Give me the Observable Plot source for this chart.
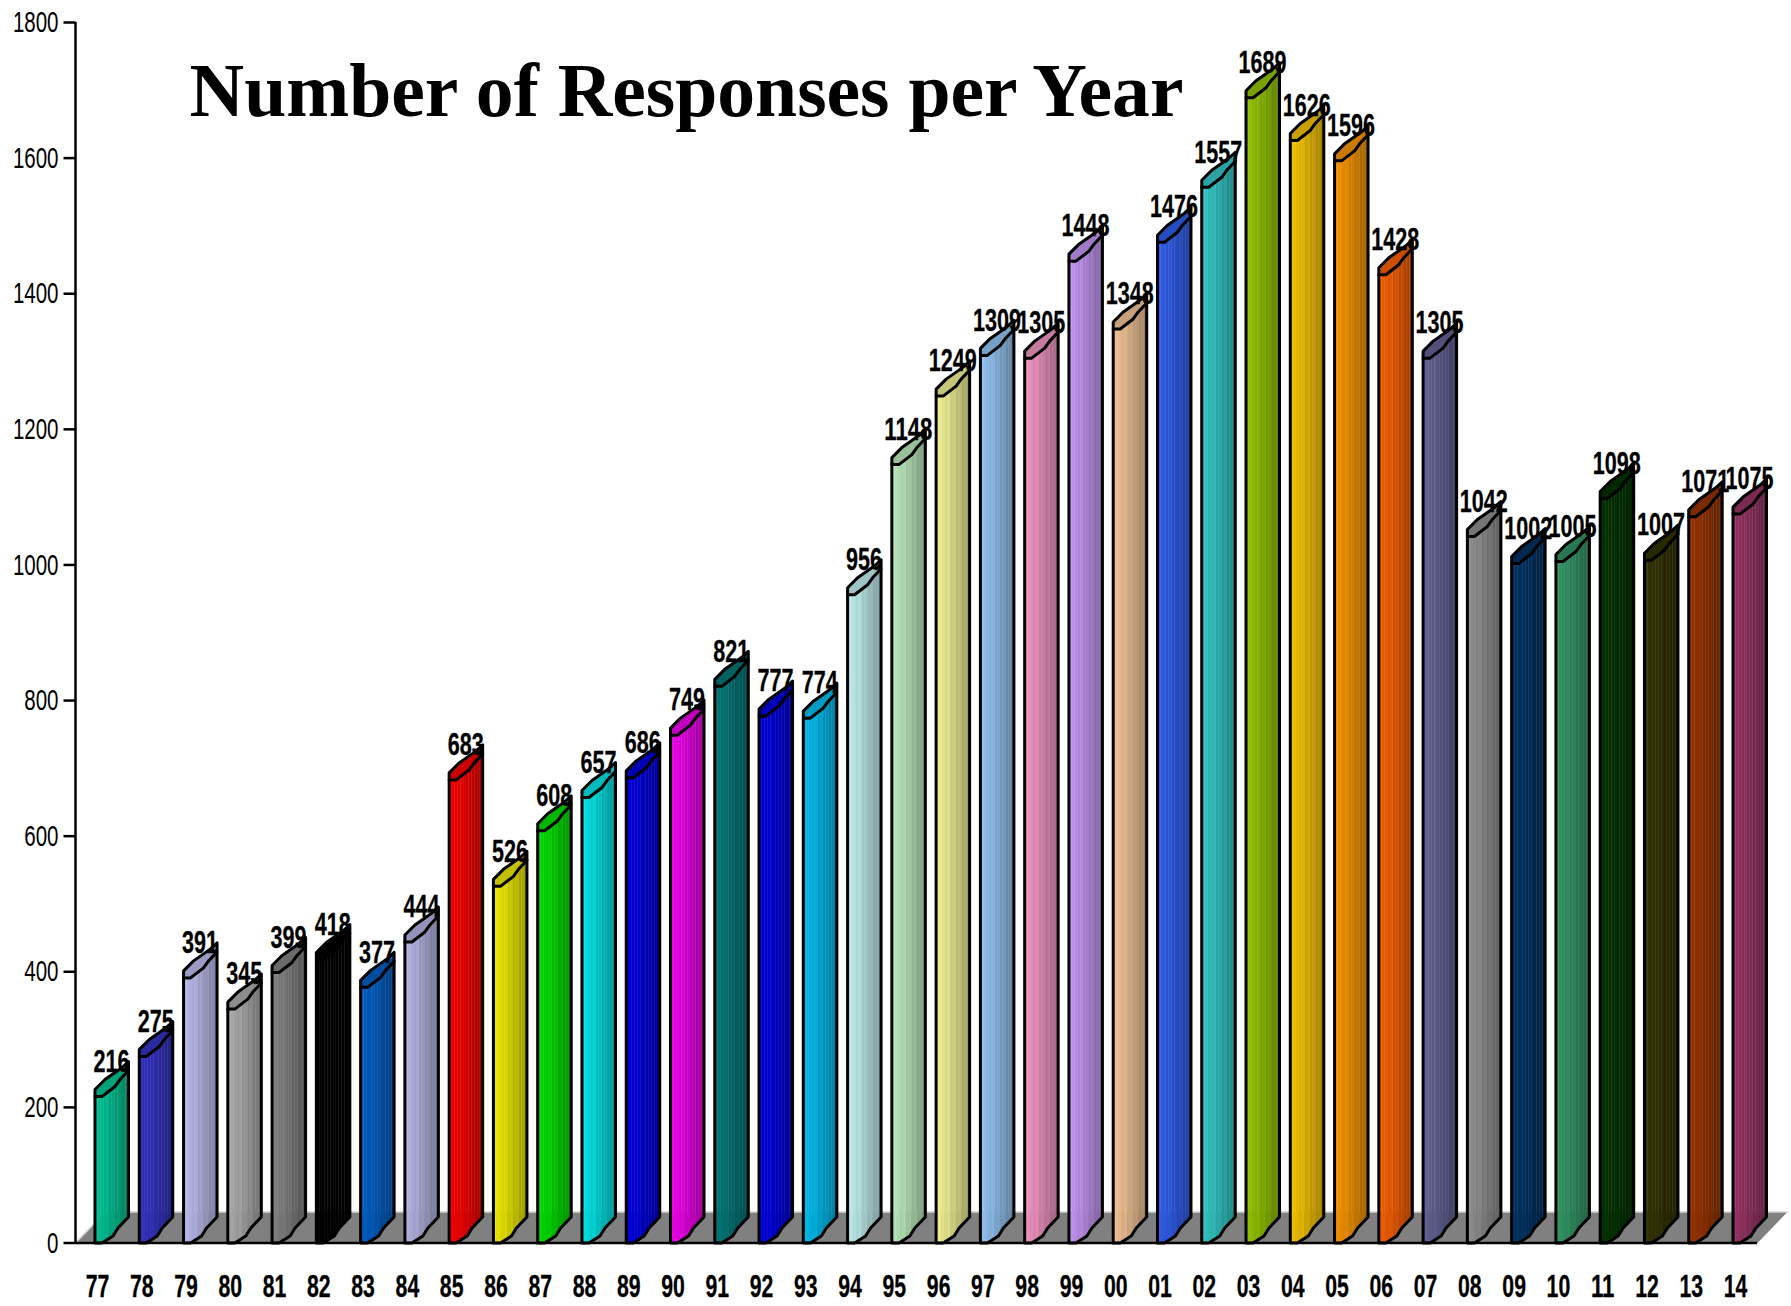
<!DOCTYPE html>
<html><head><meta charset="utf-8">
<script src="https://cdn.jsdelivr.net/npm/d3@7"></script>
<script src="https://cdn.jsdelivr.net/npm/@observablehq/plot@0.6"></script>
<style>html,body{margin:0;padding:0;background:#fff}svg{display:block}</style>
</head><body><div id="chart"></div>
<script>
const years=["77","78","79","80","81","82","83","84","85","86","87","88","89","90","91","92","93","94","95","96","97","98","99","00","01","02","03","04","05","06","07","08","09","10","11","12","13","14"];
const responses=[216,275,391,345,399,418,377,444,683,526,608,657,686,749,821,777,774,956,1148,1249,1309,1305,1448,1348,1476,1557,1689,1626,1596,1428,1305,1042,1002,1005,1098,1007,1071,1075];
const colors=["#00c898","#3333c8","#c0c0f4","#b0b0b0","#848484","#000000","#0060c8","#b8b8e8","#ff0000","#f4f000","#00e400","#00eaea","#0000e4","#f400f0","#007878","#0000e4","#00c0f4","#c4f4f4","#c0f0c0","#f8f898","#96c8f8","#f898c8","#c898f8","#f8c898","#3060f0","#33cccc","#96c800","#fcc800","#fc9800","#fc6000","#646498","#929292","#003366","#339966","#003300","#333300","#993300","#993366"];
const title="Number of Responses per Year";

const W=1791,H=1306,mL=75,mT=22,y0px=1242.5;
const stepPx=44.27,firstPx=94.5;
const pxPerUnit=(y0px-mT)/1800;
const dxU=1/stepPx, dyU=1/pxPerUnit; // one pixel in data units
const xMin=(mL-firstPx)/stepPx, xMax=(W-firstPx)/stepPx;

// silhouettes as offsets from a bar's front-left corner, in px (y up)
const upperRim=[[0,7],[10,17],[20,24],[27,29],[33.5,35]];
const lowerRim=[[0,0],[7,0],[20,10],[25,17],[33.5,26]];
const footRim=[[0,0],[7,0],[18,7],[23,15],[33.5,26]];
const along=(r,p)=>{
  for(let k=1;k<r.length;k++) if(p<=r[k][0]) return r[k-1][1]+(r[k][1]-r[k-1][1])*(p-r[k-1][0])/(r[k][0]-r[k-1][0]);
  return r[r.length-1][1];
};
const STRIPS=12;
const bars=years.map((y,i)=>({y,i,v:responses[i],c:colors[i]}));
const shade=(c,t)=>{const k=d3.color(c);return d3.rgb(k.r*t,k.g*t,k.b*t).formatHex();};
const streak=[0,0,0,0,.05,0,.04,0,.04,0,.04,0];
const strips=[],caps=[],outlines=[];
for(const b of bars){
  for(let s=0;s<STRIPS;s++){
    const a=33.5*s/STRIPS,e=33.5*(s+1)/STRIPS;
    const t=0.97-0.34*(s/(STRIPS-1))+streak[s];
    const pts=[[a,along(footRim,a),0],[e,along(footRim,e),0],[e,along(lowerRim,e),1],[a,along(lowerRim,a),1]];
    for(const [px,py,isTop] of pts){
      strips.push({id:`${b.i}-${s}`,x:b.i+px*dxU,y:(isTop?b.v:0)+py*dyU,c:shade(b.c,t)});
    }
  }
  for(const [px,py] of [...upperRim,...[...lowerRim].reverse()]) caps.push({id:b.i,x:b.i+px*dxU,y:b.v+py*dyU,c:shade(b.c,0.8)});
  const sil=[[0,0,0],[0,0,1],...upperRim.map(p=>[p[0],p[1],1]),...[...footRim].reverse().map(p=>[p[0],p[1],0])];
  for(const [px,py,top] of sil) outlines.push({id:"o"+b.i,x:b.i+px*dxU,y:(top?b.v:0)+py*dyU});
  for(const [px,py] of lowerRim) outlines.push({id:"r"+b.i,x:b.i+px*dxU,y:b.v+py*dyU});
}
const floorD=31*dyU;
const floor=[{x:xMin,y:0},{x:xMin+30*dxU,y:floorD},{x:xMin+1712*dxU,y:floorD},{x:xMin+1682*dxU,y:0},{x:xMin,y:0}];
const axisTicks=d3.range(0,1801,200);
const narrow="'Liberation Sans Narrow','Liberation Sans',sans-serif";

const plot=Plot.plot({
  width:W,height:H,
  marginLeft:mL,marginRight:0,marginTop:mT,marginBottom:H-y0px,
  x:{type:"linear",domain:[xMin,xMax],axis:null},
  y:{type:"linear",domain:[0,1800],axis:null},
  color:{type:"identity"},
  marks:[
    Plot.line(floor,{x:"x",y:"y",fill:"#808080",stroke:"none"}),
    Plot.line([{x:xMin,y:0},{x:xMin+30*dxU,y:floorD},{x:xMin+1712*dxU,y:floorD}],{x:"x",y:"y",stroke:"#d4d4d4",strokeWidth:1.5}),
    Plot.line(strips,{x:"x",y:"y",z:"id",fill:"c",stroke:"c",strokeWidth:0.7}),
    Plot.line(caps,{x:"x",y:"y",z:"id",fill:"c",stroke:"none"}),
    Plot.line(outlines,{x:"x",y:"y",z:"id",stroke:"#000",strokeWidth:3,strokeLinejoin:"round"}),
    Plot.ruleX([xMin],{y1:0,y2:1800,stroke:"#000",strokeWidth:2.5}),
    Plot.ruleY([0],{x1:xMin,x2:xMin+1682*dxU,stroke:"#000",strokeWidth:2.5}),
    Plot.link(axisTicks,{x1:()=>xMin-12*dxU,x2:()=>xMin,y1:d=>d,y2:d=>d,stroke:"#000",strokeWidth:2.5}),
    Plot.text(axisTicks,{x:()=>xMin-17*dxU,y:d=>d,text:d=>String(d),textAnchor:"end",fontFamily:narrow,fontSize:30,className:"ylab",fill:"#000"}),
    Plot.text(bars,{x:d=>d.i+16.5*dxU,y:d=>d.v+35*dyU,text:d=>String(d.v),fontFamily:narrow,fontWeight:"bold",fontSize:32,className:"vlab",fill:"#000",stroke:"#000",strokeWidth:0.3}),
    Plot.text(bars,{x:d=>d.i+2.5*dxU,y:()=>-44*dyU,text:"y",clip:false,fontFamily:narrow,fontWeight:"bold",fontSize:31,className:"xlab",fill:"#000",stroke:"#000",strokeWidth:0.3}),
    Plot.text([title],{x:()=>xMin+(686-75)*dxU,y:()=>(y0px-91)*dyU,text:d=>d,fontFamily:"'Liberation Serif',serif",fontWeight:"bold",fontSize:75.6,fill:"#000",className:"ttl"})
  ]
});
document.getElementById("chart").append(plot);
const squeeze=(sel,w)=>d3.select(plot).selectAll(sel+" text").each(function(){this.setAttribute("textLength",String(this.textContent.length*w));this.setAttribute("lengthAdjust","spacingAndGlyphs");});
squeeze(".ylab",11.4);squeeze(".vlab",12);squeeze(".xlab",11.8);
</script></body></html>
